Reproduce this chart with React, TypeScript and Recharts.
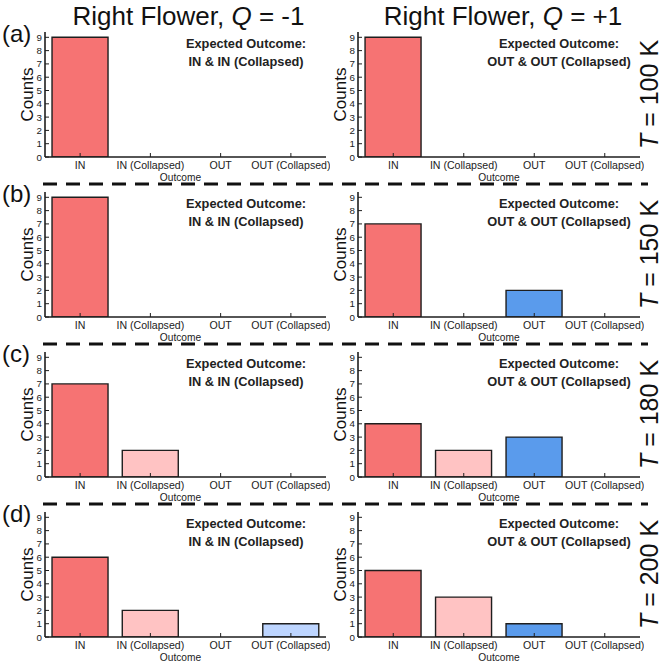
import React from 'react';
import { BarChart, Bar, XAxis, YAxis, Cell } from 'recharts';

const categories = ['IN', 'IN (Collapsed)', 'OUT', 'OUT (Collapsed)'];
const barColors = ['#F67373', '#FFC3C3', '#5A9BEC', '#BDD5FF'];
const yTicks = [0, 1, 2, 3, 4, 5, 6, 7, 8, 9];
const rowLabels = ['(a)', '(b)', '(c)', '(d)'];
const temperatures = ['100 K', '150 K', '180 K', '200 K'];
const chargeLabels = ['-1', '+1'];
const expectedOutcomes = ['IN & IN (Collapsed)', 'OUT & OUT (Collapsed)'];

const countsA_Qminus = [9, 0, 0, 0];
const countsA_Qplus = [9, 0, 0, 0];
const countsB_Qminus = [9, 0, 0, 0];
const countsB_Qplus = [7, 0, 2, 0];
const countsC_Qminus = [7, 2, 0, 0];
const countsC_Qplus = [4, 2, 3, 0];
const countsD_Qminus = [6, 2, 0, 1];
const countsD_Qplus = [5, 3, 1, 0];

const rows = [
  [countsA_Qminus, countsA_Qplus],
  [countsB_Qminus, countsB_Qplus],
  [countsC_Qminus, countsC_Qplus],
  [countsD_Qminus, countsD_Qplus],
];

const FONT = '"Liberation Sans", Arial, Helvetica, sans-serif';
const FRAME = '#1e1e1e';
const colLeft = [45, 358];
const colWidth = [281, 282];
const rowTop = [32, 192, 352, 512];
const plotH = 125;
const TICK = 4;

const BottomTick = (props: any) => {
  const { x, y, payload } = props;
  return (
    <g>
      <line x1={x} x2={x} y1={y} y2={y - TICK} stroke={FRAME} strokeWidth={1} />
      <text x={x} y={y + 11.5} textAnchor="middle" fontSize={10.6} fontFamily={FONT} fill="#222">
        {payload.value}
      </text>
    </g>
  );
};

const TopTick = (props: any) => {
  const { x, y } = props;
  return <line x1={x} x2={x} y1={y} y2={y + TICK} stroke={FRAME} strokeWidth={1} />;
};

const LeftTick = (props: any) => {
  const { x, y, payload } = props;
  return (
    <g>
      <line x1={x} x2={x + TICK} y1={y} y2={y} stroke={FRAME} strokeWidth={1} />
      <text x={x - 3} y={y + 3.5} textAnchor="end" fontSize={9.8} fontFamily={FONT} fill="#222">
        {payload.value}
      </text>
    </g>
  );
};

const RightTick = (props: any) => {
  const { x, y } = props;
  return <line x1={x} x2={x - TICK} y1={y} y2={y} stroke={FRAME} strokeWidth={1} />;
};

function Panel({ counts, col, row }: { counts: number[]; col: number; row: number }) {
  const data = categories.map((c, i) => ({ outcome: c, count: counts[i] }));
  const YW = 30;
  const M = 4;
  const XH = 30;
  const width = colWidth[col];
  const left = colLeft[col];
  const top = rowTop[row];
  const outcomeDx = col === 0 ? -5 : 0;
  return (
    <div style={{ position: 'absolute', left: left - YW, top: top - M }}>
      <BarChart
        width={YW + width + M}
        height={M + plotH + XH}
        data={data}
        margin={{ top: M, right: M, bottom: 0, left: 0 }}
        barCategoryGap="10%"
      >
        <XAxis
          xAxisId="b"
          dataKey="outcome"
          orientation="bottom"
          height={XH}
          interval={0}
          tickSize={0}
          tickMargin={0}
          tickLine={false}
          axisLine={{ stroke: FRAME, strokeWidth: 1.6 }}
          tick={<BottomTick />}
          label={{
            content: (p: any) => (
              <text
                x={p.viewBox.x + p.viewBox.width / 2 + outcomeDx}
                y={p.viewBox.y + 23.5}
                textAnchor="middle"
                fontSize={10.2}
                fontFamily={FONT}
                fill="#222"
              >
                Outcome
              </text>
            ),
          }}
        />
        <XAxis
          xAxisId="t"
          dataKey="outcome"
          orientation="top"
          height={0}
          interval={0}
          tickSize={0}
          tickMargin={0}
          tickLine={false}
          axisLine={{ stroke: FRAME, strokeWidth: 1.6 }}
          tick={<TopTick />}
        />
        <YAxis
          yAxisId="l"
          orientation="left"
          width={YW}
          type="number"
          domain={[0, 9.4]}
          ticks={yTicks}
          interval={0}
          allowDataOverflow
          tickSize={0}
          tickMargin={0}
          tickLine={false}
          axisLine={{ stroke: FRAME, strokeWidth: 1.6 }}
          tick={<LeftTick />}
          label={{
            content: (p: any) => {
              const cx = p.viewBox.x + p.viewBox.width - 12;
              const cy = p.viewBox.y + p.viewBox.height / 2;
              return (
                <text
                  x={cx}
                  y={cy}
                  transform={`rotate(-90 ${cx} ${cy})`}
                  textAnchor="middle"
                  fontSize={17}
                  fontFamily={FONT}
                  fill="#111"
                >
                  Counts
                </text>
              );
            },
          }}
        />
        <YAxis
          yAxisId="r"
          orientation="right"
          width={0}
          type="number"
          domain={[0, 9.4]}
          ticks={yTicks}
          interval={0}
          allowDataOverflow
          tickSize={0}
          tickMargin={0}
          tickLine={false}
          axisLine={{ stroke: FRAME, strokeWidth: 1.6 }}
          tick={<RightTick />}
        />
        <Bar
          dataKey="count"
          xAxisId="b"
          yAxisId="l"
          stroke={FRAME}
          strokeWidth={1.4}
          isAnimationActive={false}
        >
          {data.map((d, i) => (
            <Cell key={d.outcome} fill={barColors[i]} />
          ))}
        </Bar>
      </BarChart>
    </div>
  );
}

export default function App() {
  return (
    <div
      style={{
        position: 'absolute',
        left: 0,
        top: 0,
        width: 663,
        height: 667,
        background: '#fff',
        overflow: 'hidden',
      }}
    >
      {rows.map((pair, r) =>
        pair.map((counts, c) => <Panel key={`${r}-${c}`} counts={counts} col={c} row={r} />)
      )}
      <svg
        width={663}
        height={667}
        style={{ position: 'absolute', left: 0, top: 0, pointerEvents: 'none' }}
      >
        {chargeLabels.map((q, c) => (
          <text
            key={q}
            x={c === 0 ? 188.5 : 503}
            y={25}
            textAnchor="middle"
            fontSize={26}
            fontFamily={FONT}
            fill="#111"
          >
            Right Flower, <tspan fontStyle="italic">Q</tspan> = {q}
          </text>
        ))}
        {rowLabels.map((lab, r) => (
          <text key={lab} x={2} y={rowTop[r] + 10} fontSize={24} fontFamily={FONT} fill="#111">
            {lab}
          </text>
        ))}
        {[1, 2, 3].map((r) => (
          <line
            key={r}
            x1={43}
            x2={648}
            y1={rowTop[r] - 8}
            y2={rowTop[r] - 8}
            stroke="#111"
            strokeWidth={3}
            strokeDasharray="14 9"
          />
        ))}
        {temperatures.map((t, r) => {
          const cx = 657.5;
          const cy = rowTop[r] + plotH / 2;
          return (
            <text
              key={t}
              x={cx}
              y={cy}
              transform={`rotate(-90 ${cx} ${cy})`}
              textAnchor="middle"
              fontSize={25}
              fontFamily={FONT}
              fill="#111"
            >
              <tspan fontStyle="italic">T</tspan> = {t}
            </text>
          );
        })}
        {rows.map((_, r) =>
          expectedOutcomes.map((eo, c) => {
            const cx = colLeft[c] + 201;
            return (
              <g key={`${r}-${c}`}>
                <text
                  x={cx}
                  y={rowTop[r] + 15.5}
                  textAnchor="middle"
                  fontSize={12.8}
                  fontWeight="bold"
                  fontFamily={FONT}
                  fill="#222"
                >
                  Expected Outcome:
                </text>
                <text
                  x={cx}
                  y={rowTop[r] + 33.5}
                  textAnchor="middle"
                  fontSize={12.8}
                  fontWeight="bold"
                  fontFamily={FONT}
                  fill="#222"
                >
                  {eo}
                </text>
              </g>
            );
          })
        )}
      </svg>
    </div>
  );
}
